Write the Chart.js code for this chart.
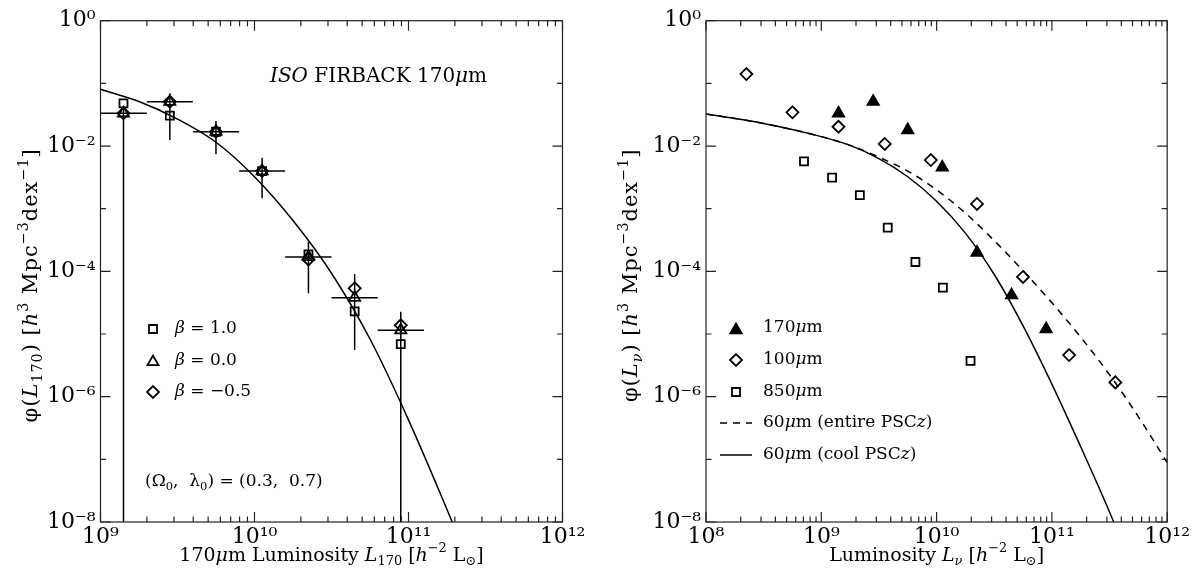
<!DOCTYPE html>
<html><head><meta charset="utf-8">
<script src="https://cdn.jsdelivr.net/npm/chart.js@4.4.1/dist/chart.umd.min.js"></script>
<style>
html,body{margin:0;padding:0;background:#fff;}
#wrap{position:relative;width:1192px;height:577px;overflow:hidden;}
.c{position:absolute;top:0;width:596px;height:577px;}
</style></head><body>
<div id="wrap">
<div class="c" style="left:0"><canvas id="left" width="596" height="577"></canvas></div>
<div class="c" style="left:596px"><canvas id="right" width="596" height="577"></canvas></div>
</div>
<script>
// ---------- LEFT PANEL DATA (ISO FIRBACK 170um) ----------
const binL   = [1.41e9, 2.82e9, 5.62e9, 1.12e10, 2.24e10, 4.47e10, 8.91e10];
const binLo  = [1.0e9, 2.0e9, 3.98e9, 7.94e9, 1.58e10, 3.16e10, 6.31e10];
const binHi  = [2.0e9, 3.98e9, 7.94e9, 1.58e10, 3.16e10, 6.31e10, 1.26e11];
const phiBeta10  = [0.0481, 0.0305, 0.0169, 0.00398, 1.86e-4, 2.29e-5, 6.9e-6];
const phiBeta00  = [0.0333, 0.0509, 0.0169, 0.00398, 1.70e-4, 3.80e-5, 1.15e-5];
const phiBetaM05 = [0.0333, 0.0509, 0.0169, 0.00398, 1.55e-4, 5.37e-5, 1.38e-5];
const errPhiHi = [0.0427, 0.0693, 0.0251, 0.00652, 2.97e-4, 9.08e-5, 2.27e-5];
const errPhiLo = [1e-8, 0.0125, 0.00738, 0.00147, 4.47e-5, 5.56e-6, 1e-8];
const fitL   = [1e9, 1.778e9, 3.162e9, 5.623e9, 1e10, 1.778e10, 3.162e10, 5.623e10, 1e11, 1.778e11, 2.0e11];
const fitPhi = [0.0804, 0.0513, 0.0269, 0.01148, 0.003236, 6.46e-4, 9.33e-5, 8.32e-6, 4.27e-7, 1.585e-8, 7.9e-9];

// ---------- RIGHT PANEL DATA ----------
const l170   = [1.41e9, 2.82e9, 5.62e9, 1.12e10, 2.24e10, 4.47e10, 8.91e10];
const phi170 = [0.0333, 0.0511, 0.0180, 0.00457, 2.0e-4, 4.17e-5, 1.2e-5];
const l100   = [2.24e8, 5.62e8, 1.41e9, 3.55e9, 8.91e9, 2.24e10, 5.62e10, 1.41e11, 3.55e11];
const phi100 = [0.141, 0.0345, 0.0203, 0.0108, 0.00598, 0.00119, 8.13e-5, 4.62e-6, 1.69e-6];
const l850   = [7.08e8, 1.24e9, 2.16e9, 3.77e9, 6.55e9, 1.135e10, 1.97e10];
const phi850 = [0.0057, 0.00313, 0.00165, 4.98e-4, 1.41e-4, 5.5e-5, 3.72e-6];
const entireL   = [1e8, 3.162e8, 1e9, 1.778e9, 3.162e9, 5.623e9, 1e10, 1.778e10, 3.162e10, 5.623e10, 1e11, 1.778e11, 3.162e11, 5.623e11, 1e12];
const entirePhi = [0.0324, 0.0229, 0.01413, 0.01023, 0.00664, 0.00398, 0.001995, 8.51e-4, 3.09e-4, 1.023e-4, 3.16e-5, 8.91e-6, 2.24e-6, 4.79e-7, 8.91e-8];
const coolL   = [1e8, 3.162e8, 1e9, 1.778e9, 3.162e9, 5.623e9, 1e10, 1.778e10, 3.162e10, 5.623e10, 1e11, 1.778e11, 3.162e11, 5.623e11];
const coolPhi = [0.0324, 0.0229, 0.01413, 0.01023, 0.00631, 0.003236, 0.001318, 4.07e-4, 8.91e-5, 1.349e-5, 1.585e-6, 1.585e-7, 1.445e-8, 1.1e-9];

// ---------- TICKS ----------
const leftXTicks = [1e9, 1e10, 1e11, 1e12];
const leftXLabels = ['10⁹', '10¹⁰', '10¹¹', '10¹²'];
const rightXTicks = [1e8, 1e9, 1e10, 1e11, 1e12];
const rightXLabels = ['10⁸', '10⁹', '10¹⁰', '10¹¹', '10¹²'];
const yTicks = [1, 1e-2, 1e-4, 1e-6, 1e-8];
const yLabels = ['10⁰', '10⁻²', '10⁻⁴', '10⁻⁶', '10⁻⁸'];

const SERIF = '"DejaVu Serif", "Liberation Serif", serif';

function pts(xs, ys){ return xs.map((x,i)=>({x:x, y:ys[i]})); }
function errSegments(){
  const d = [];
  for (let i=0;i<binL.length;i++){
    d.push({x:binLo[i], y:phiBeta00[i]}, {x:binHi[i], y:phiBeta00[i]}, {x:binHi[i], y:null});
  }
  return d;
}
function errVert(){
  const d = [];
  for (let i=0;i<binL.length;i++){
    d.push({x:binL[i], y:errPhiHi[i]}, {x:binL[i], y:errPhiLo[i]}, {x:binL[i], y:null});
  }
  return d;
}

function setFont(ctx, s, size){
  const it = s.indexOf('i') >= 0;
  const small = s.indexOf('sup') >= 0 || s.indexOf('sub') >= 0;
  ctx.font = (it?'italic ':'') + (small ? size*0.68 : size) + 'px ' + SERIF;
}
function richWidth(ctx, parts, size){
  let w = 0;
  for (const p of parts){ setFont(ctx, p[1]||'', size); w += ctx.measureText(p[0]).width; }
  return w;
}
function rich(ctx, x, y, parts, size){
  let cx = x;
  for (const p of parts){
    const t = p[0], s = p[1] || '';
    setFont(ctx, s, size);
    const dy = s.indexOf('sup')>=0 ? -size*0.38 : (s.indexOf('sub')>=0 ? size*0.28 : 0);
    ctx.fillText(t, cx, y+dy);
    cx += ctx.measureText(t).width;
  }
}
function richCentered(ctx, cx, cy, parts, size, rot, spacing){
  ctx.save();
  ctx.letterSpacing = (spacing||0) + 'px';
  ctx.translate(cx, cy);
  if (rot) ctx.rotate(rot);
  const w = richWidth(ctx, parts, size);
  rich(ctx, -w/2, 0, parts, size);
  ctx.restore();
}

function marker(ctx, style, x, y, r, fill){
  ctx.beginPath();
  if (style==='rect'){ const s=r*Math.SQRT1_2; ctx.rect(x-s,y-s,2*s,2*s); }
  else if (style==='triangle'){
    ctx.moveTo(x, y-r);
    ctx.lineTo(x+r*Math.sin(Math.PI*2/3), y - r*Math.cos(Math.PI*2/3));
    ctx.lineTo(x-r*Math.sin(Math.PI*2/3), y - r*Math.cos(Math.PI*2/3));
    ctx.closePath();
  } else if (style==='rectRot'){
    ctx.moveTo(x-r,y); ctx.lineTo(x,y-r); ctx.lineTo(x+r,y); ctx.lineTo(x,y+r); ctx.closePath();
  }
  if (fill){ ctx.fill(); }
  ctx.stroke();
}

const frameTicks = {
  id:'frameTicks',
  afterDraw(chart){
    const {ctx, chartArea:a, scales} = chart;
    const xs = scales.x, ys = scales.y;
    ctx.save();
    ctx.strokeStyle = '#222'; ctx.lineWidth = 1.2;
    ctx.strokeRect(a.left, a.top, a.right-a.left, a.bottom-a.top);
    ctx.beginPath();
    const x0 = Math.round(Math.log10(xs.min)), x1 = Math.round(Math.log10(xs.max));
    for (let e=x0; e<=x1; e++){
      for (let m=1; m<10; m++){
        const v = m*Math.pow(10,e);
        if (v < xs.min*0.999 || v > xs.max*1.001) continue;
        const px = xs.getPixelForValue(v);
        const len = m===1 ? 10 : 5.5;
        ctx.moveTo(px, a.bottom); ctx.lineTo(px, a.bottom-len);
        ctx.moveTo(px, a.top); ctx.lineTo(px, a.top+len);
      }
    }
    const y0 = Math.round(Math.log10(ys.min)), y1 = Math.round(Math.log10(ys.max));
    for (let e=y0; e<=y1; e++){
      const py = ys.getPixelForValue(Math.pow(10,e));
      const len = (e%2===0) ? 10 : 5.5;
      ctx.moveTo(a.left, py); ctx.lineTo(a.left+len, py);
      ctx.moveTo(a.right, py); ctx.lineTo(a.right-len, py);
    }
    ctx.stroke();
    ctx.restore();
  }
};

// axis titles with italic / sub / superscript parts, placed from the scales
const axisTitles = {
  id:'axisTitles',
  afterDraw(chart, args, opts){
    const {ctx, scales} = chart;
    const xs = scales.x, ys = scales.y;
    ctx.save();
    ctx.fillStyle = '#000'; ctx.textBaseline = 'middle'; ctx.textAlign = 'left';
    richCentered(ctx, (xs.left + xs.right)/2, xs.bottom - 21, opts.xTitle, 19, 0, 0);
    richCentered(ctx, opts.yTitleX, (ys.top + ys.bottom)/2 + opts.yTitleShift, opts.yTitle, 21, -Math.PI/2, 1);
    ctx.restore();
  }
};

function scalesCfg(xmin, xmax, xt, xl, yWidth){
  return {
    x: {
      type:'logarithmic', min:xmin, max:xmax,
      grid:{display:false, drawTicks:false}, border:{display:false},
      afterBuildTicks: s => { s.ticks = xt.map(v=>({value:v})); },
      afterFit: s => { s.height = 55; },
      ticks:{ autoSkip:false, maxRotation:0, padding:2, color:'#000',
        font:{family:SERIF, size:22}, callback:(v,i)=>xl[i] },
      title:{ display:false }
    },
    y: {
      type:'logarithmic', min:1e-8, max:1,
      grid:{display:false, drawTicks:false}, border:{display:false},
      afterBuildTicks: s => { s.ticks = yTicks.map(v=>({value:v})); },
      afterFit: s => { s.width = yWidth; },
      ticks:{ autoSkip:false, padding:5, color:'#000',
        font:{family:SERIF, size:22}, callback:(v,i)=>yLabels[i] },
      title:{ display:false }
    }
  };
}

const lineDs = (data, extra) => Object.assign({
  type:'line', data, borderColor:'#000', backgroundColor:'#000', borderWidth:1.5,
  pointRadius:0, pointHoverRadius:0, fill:false, spanGaps:false
}, extra||{});
const markDs = (data, style, r, filled) => ({
  type:'line', data, showLine:false, pointStyle:style, pointRadius:r, pointHoverRadius:r,
  pointBorderColor:'#000', pointBackgroundColor: filled ? '#000' : 'rgba(0,0,0,0)',
  pointBorderWidth:1.8, borderColor:'#000'
});

// ---------- LEFT CHART ----------
const leftAnnot = {
  id:'leftAnnot',
  afterDraw(chart){
    const ctx = chart.ctx;
    ctx.save();
    ctx.fillStyle = '#000'; ctx.strokeStyle='#000'; ctx.lineWidth=1.8;
    ctx.textBaseline = 'middle'; ctx.textAlign = 'left';
    rich(ctx, 270, 77, [['ISO','i'],[' FIRBACK 170'],['μ','i'],['m']], 20);
    marker(ctx,'rect',153,329,5.66,false);
    marker(ctx,'triangle',153,362,6.4,false);
    marker(ctx,'rectRot',153,392,6,false);
    rich(ctx, 175, 329, [['β','i'],[' = 1.0']], 17);
    rich(ctx, 175, 361, [['β','i'],[' = 0.0']], 17);
    rich(ctx, 175, 392, [['β','i'],[' = −0.5']], 17);
    rich(ctx, 145, 482, [['(Ω'],['0','sub'],[',  λ'],['0','sub'],[') = (0.3,  0.7)']], 17);
    ctx.restore();
  }
};

new Chart(document.getElementById('left'), {
  data:{ datasets:[
    markDs(pts(binL, phiBeta10), 'rect', 5.66, false),
    markDs(pts(binL, phiBeta00), 'triangle', 6.4, false),
    markDs(pts(binL, phiBetaM05), 'rectRot', 6, false),
    lineDs(errSegments()),
    lineDs(errVert()),
    lineDs(pts(fitL, fitPhi), {cubicInterpolationMode:'monotone'})
  ]},
  options:{
    responsive:false, animation:false, events:[],
    layout:{ padding:{left:0, top:20.7, right:33.5, bottom:0} },
    plugins:{ legend:{display:false}, tooltip:{enabled:false},
      axisTitles:{
        xTitle:[['170'],['μ','i'],['m Luminosity '],['L','i'],['170','sub'],[' ['],['h','i'],['−2','sup'],[' L'],['⊙','sub'],[']']],
        yTitle:[['φ('],['L','i'],['170','sub'],[') ['],['h','i'],['3','sup'],[' Mpc'],['−3','sup'],['dex'],['−1','sup'],[']']],
        yTitleX:32, yTitleShift:14 } },
    scales: scalesCfg(1e9, 1e12, leftXTicks, leftXLabels, 100.5)
  },
  plugins:[frameTicks, leftAnnot, axisTitles]
});

// ---------- RIGHT CHART ----------
const rightAnnot = {
  id:'rightAnnot',
  afterDraw(chart){
    const ctx = chart.ctx;
    ctx.save();
    ctx.fillStyle = '#000'; ctx.strokeStyle='#000'; ctx.lineWidth=1.8;
    ctx.textBaseline = 'middle'; ctx.textAlign = 'left';
    marker(ctx,'triangle',140,330,6.5,true);
    marker(ctx,'rectRot',140,360,6,false);
    marker(ctx,'rect',140,392,5.66,false);
    ctx.lineWidth = 1.5;
    ctx.setLineDash([7,6]);
    ctx.beginPath(); ctx.moveTo(124,423); ctx.lineTo(156,423); ctx.stroke();
    ctx.setLineDash([]);
    ctx.beginPath(); ctx.moveTo(124,455); ctx.lineTo(156,455); ctx.stroke();
    rich(ctx, 167, 328, [['170'],['μ','i'],['m']], 17);
    rich(ctx, 167, 360, [['100'],['μ','i'],['m']], 17);
    rich(ctx, 167, 392, [['850'],['μ','i'],['m']], 17);
    rich(ctx, 167, 423, [['60'],['μ','i'],['m (entire PSC'],['z','i'],[')']], 17);
    rich(ctx, 167, 455, [['60'],['μ','i'],['m (cool PSC'],['z','i'],[')']], 17);
    ctx.restore();
  }
};

new Chart(document.getElementById('right'), {
  data:{ datasets:[
    markDs(pts(l170, phi170), 'triangle', 6.5, true),
    markDs(pts(l100, phi100), 'rectRot', 6, false),
    markDs(pts(l850, phi850), 'rect', 5.66, false),
    lineDs(pts(entireL, entirePhi), {cubicInterpolationMode:'monotone', borderDash:[7,6]}),
    lineDs(pts(coolL, coolPhi), {cubicInterpolationMode:'monotone'})
  ]},
  options:{
    responsive:false, animation:false, events:[],
    layout:{ padding:{left:0, top:20.7, right:24, bottom:0} },
    plugins:{ legend:{display:false}, tooltip:{enabled:false},
      axisTitles:{
        xTitle:[['Luminosity '],['L','i'],['ν','isub'],[' ['],['h','i'],['−2','sup'],[' L'],['⊙','sub'],[']']],
        yTitle:[['φ('],['L','i'],['ν','isub'],[') ['],['h','i'],['3','sup'],[' Mpc'],['−3','sup'],['dex'],['−1','sup'],[']']],
        yTitleX:36, yTitleShift:4 } },
    scales: scalesCfg(1e8, 1e12, rightXTicks, rightXLabels, 110)
  },
  plugins:[frameTicks, rightAnnot, axisTitles]
});
</script>
</body></html>
